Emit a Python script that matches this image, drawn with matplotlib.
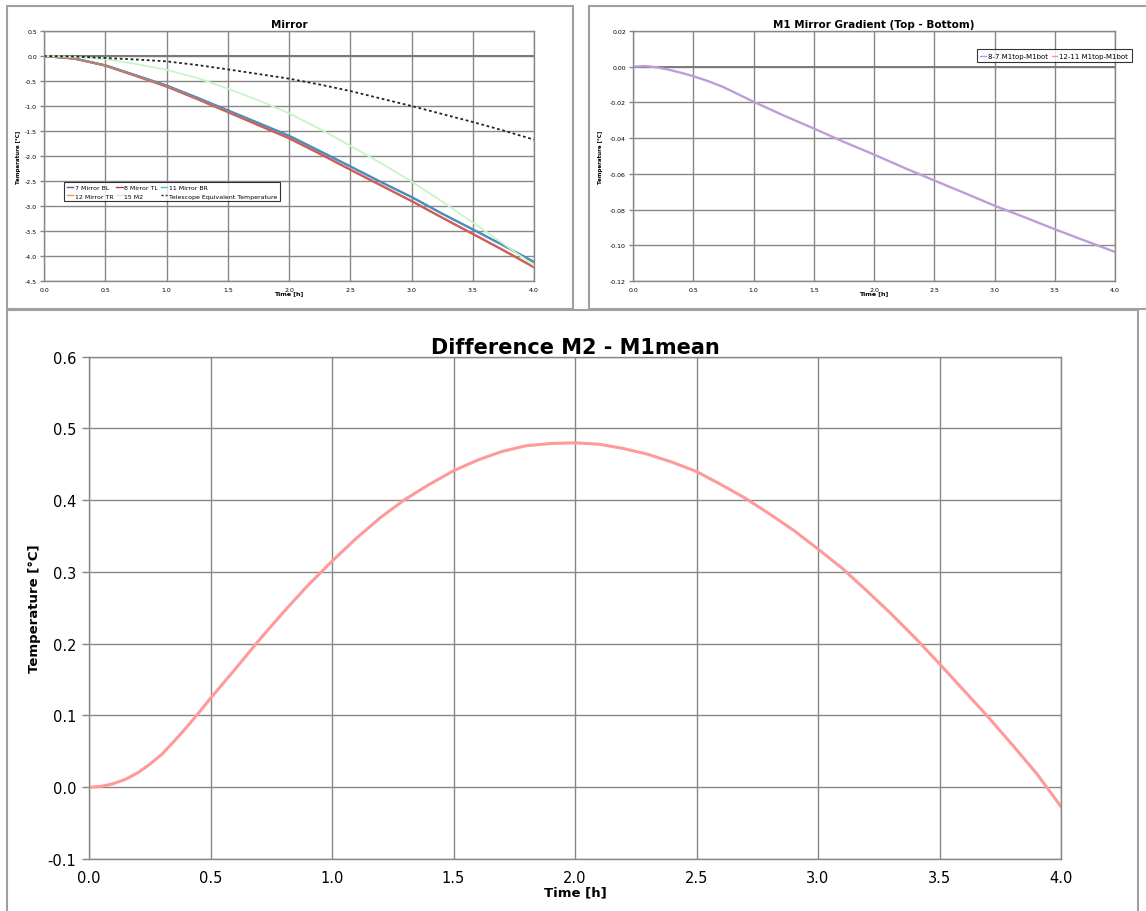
import numpy as np
from matplotlib import pyplot as plt
from matplotlib.patches import Rectangle
from matplotlib.lines import Line2D

plt.rcParams['axes.unicode_minus'] = False

# ---- Mirror (top left) ----
t_mir = [0.0, 0.25, 0.5, 0.75, 1.0, 1.25, 1.5, 1.75, 2.0, 2.25, 2.5, 2.75, 3.0, 3.25, 3.5, 3.75, 4.0]
m7_bl = [0, -0.05, -0.187, -0.387, -0.59, -0.833, -1.087, -1.34, -1.595, -1.9, -2.207, -2.52, -2.82, -3.153, -3.467, -3.787, -4.12]
m11_br = [0, -0.05, -0.187, -0.387, -0.59, -0.833, -1.087, -1.34, -1.595, -1.9, -2.207, -2.52, -2.82, -3.153, -3.467, -3.787, -4.12]
m8_tl = [0, -0.052, -0.192, -0.398, -0.61, -0.86, -1.12, -1.383, -1.645, -1.953, -2.273, -2.587, -2.9, -3.233, -3.558, -3.885, -4.225]
m12_tr = [0, -0.052, -0.192, -0.398, -0.61, -0.86, -1.12, -1.383, -1.645, -1.953, -2.273, -2.587, -2.9, -3.233, -3.558, -3.885, -4.225]
m15_m2 = [0, -0.017, -0.06, -0.16, -0.275, -0.44, -0.65, -0.885, -1.145, -1.457, -1.795, -2.14, -2.51, -2.91, -3.33, -3.755, -4.19]
tel_eq = [0, -0.01, -0.04, -0.07, -0.107, -0.18, -0.267, -0.36, -0.453, -0.57, -0.7, -0.85, -1.0, -1.16, -1.32, -1.49, -1.673]

# ---- M1 gradient (top right) ----
t_grad = [0.0, 0.1, 0.2, 0.3, 0.4, 0.5, 0.625, 0.75, 0.875, 1.0, 1.25, 1.5, 1.75, 2.0, 2.25, 2.5, 2.75, 3.0,
          3.25, 3.5, 3.75, 4.0]
g_8_7 = [0, 0.0004, -0.0004, -0.0017, -0.0034, -0.0053, -0.0081, -0.0114, -0.0155, -0.0196, -0.0273, -0.0346,
         -0.0421, -0.0492, -0.0566, -0.0637, -0.0707, -0.0778, -0.0843, -0.091, -0.0974, -0.1037]
g_12_11 = [0, 0.0004, -0.0004, -0.0017, -0.0034, -0.0053, -0.0081, -0.0114, -0.0155, -0.0196, -0.0273, -0.0346,
           -0.0421, -0.0492, -0.0566, -0.0637, -0.0707, -0.0778, -0.0843, -0.091, -0.0974, -0.1037]

# ---- Difference M2 - M1mean (bottom) ----
t_diff = [0.0, 0.05, 0.1, 0.15, 0.2, 0.25, 0.3, 0.35, 0.4, 0.45, 0.5, 0.6, 0.7, 0.8, 0.9, 1.0, 1.1, 1.2, 1.3,
          1.4, 1.5, 1.6, 1.7, 1.8, 1.9, 2.0, 2.1, 2.2, 2.3, 2.4, 2.5, 2.6, 2.7, 2.8, 2.9, 3.0, 3.1, 3.2, 3.3,
          3.4, 3.5, 3.6, 3.7, 3.8, 3.9, 4.0]
diff_m2 = [0.0, 0.0012, 0.005, 0.011, 0.02, 0.032, 0.046, 0.064, 0.083, 0.103, 0.124, 0.164, 0.205, 0.244,
           0.281, 0.315, 0.347, 0.376, 0.401, 0.422, 0.441, 0.456, 0.468, 0.476, 0.479, 0.48, 0.478, 0.472,
           0.464, 0.453, 0.44, 0.422, 0.403, 0.381, 0.358, 0.332, 0.305, 0.274, 0.242, 0.208, 0.172, 0.135,
           0.098, 0.059, 0.019, -0.027]

W, H = 1146, 912
fig = plt.figure(figsize=(W / 100, H / 100), dpi=100)

GRID = '#878787'


def fr(x0, y0, x1, y1):
    # pixel box (from top-left) -> figure rect
    return [x0 / W, 1 - y1 / H, (x1 - x0) / W, (y1 - y0) / H]


def style(ax, fs):
    ax.grid(True, color=GRID, lw=1)
    ax.set_axisbelow(True)
    for s in ax.spines.values():
        s.set_color(GRID)
        s.set_linewidth(1)
    ax.tick_params(axis='y', length=3, width=1, color=GRID, labelsize=fs, pad=2)
    ax.tick_params(axis='x', length=0, labelsize=fs, pad=4)


# panel frames
for box in [(7, 7, 573, 310), (589, 7, 1160, 310), (7, 311, 1138, 930)]:
    fig.patches.append(Rectangle(fr(*box)[:2], *fr(*box)[2:], transform=fig.transFigure,
                                 fill=False, edgecolor='#a0a0a0', lw=1.5))

# top left
ax1 = fig.add_axes(fr(44, 32, 534, 282))
style(ax1, 4.5)
ax1.axhline(0, color='#7a7a7a', lw=1.5, zorder=1)
ax1.plot(t_mir, m7_bl, color='#4f5faa', lw=1.6, label='7 Mirror BL')
ax1.plot(t_mir, m8_tl, color='#b03060', lw=1.6, label='8 Mirror TL')
ax1.plot(t_mir, m11_br, color='#4bbcd0', lw=1.6, alpha=0.5, label='11 Mirror BR')
ax1.plot(t_mir, m12_tr, color='#f79646', lw=1.6, alpha=0.45, label='12 Mirror TR')
ax1.plot(t_mir, m15_m2, color='#c8f5c8', lw=1.3, label='15 M2')
ax1.plot(t_mir, tel_eq, color='#222222', lw=1.3, ls=(0, (1.5, 1.5)), label='Telescope Equivalent Temperature')
ax1.set_xlim(0, 4)
ax1.set_ylim(-4.5, 0.5)
ax1.set_xticks(np.arange(0, 4.01, 0.5))
ax1.set_yticks(np.arange(-4.5, 0.51, 0.5))
ax1.xaxis.set_major_formatter('{x:.1f}')
ax1.yaxis.set_major_formatter('{x:.1f}')
ax1.set_title('Mirror', fontsize=7.5, fontweight='bold', pad=3)
ax1.set_xlabel('Time [h]', fontsize=4.5, fontweight='bold', labelpad=-1)
ax1.set_ylabel('Temperature [°C]', fontsize=4, fontweight='bold', labelpad=3)
h7 = Line2D([], [], color='#4f5faa', lw=1)
h8 = Line2D([], [], color='#b03060', lw=1)
h11 = Line2D([], [], color='#4bc6d0', lw=1)
h12 = Line2D([], [], color='#f79646', lw=1)
h15 = Line2D([], [], color='#c8f5c8', lw=1)
ht = Line2D([], [], color='#222222', lw=1, ls=(0, (1.5, 1.5)))
leg = ax1.legend([h7, h12, h8, h15, h11, ht],
                 ['7 Mirror BL', '12 Mirror TR', '8 Mirror TL', '15 M2', '11 Mirror BR',
                  'Telescope Equivalent Temperature'],
                 ncol=3, fontsize=4.5, loc='upper left', bbox_to_anchor=(0.035, 0.41),
                 frameon=True, fancybox=False, handlelength=1.0, handletextpad=0.3,
                 columnspacing=0.4, borderpad=0.45, labelspacing=0.55)
leg.get_frame().set_edgecolor('black')
leg.get_frame().set_linewidth(0.8)

# top right
ax2 = fig.add_axes(fr(633, 32, 1115, 282))
style(ax2, 4.5)
ax2.axhline(0, color='#7a7a7a', lw=1.4, zorder=1)
ax2.plot(t_grad, g_8_7, color='#9f9ff5', lw=1.6)
ax2.plot(t_grad, g_12_11, color='#ff9999', lw=1.6, alpha=0.35)
ax2.set_xlim(0, 4)
ax2.set_ylim(-0.12, 0.02)
ax2.set_xticks(np.arange(0, 4.01, 0.5))
ax2.set_yticks(np.arange(-0.12, 0.021, 0.02))
ax2.xaxis.set_major_formatter('{x:.1f}')
ax2.yaxis.set_major_formatter('{x:.2f}')
ax2.set_title('M1 Mirror Gradient (Top - Bottom)', fontsize=7.5, fontweight='bold', pad=3)
ax2.set_xlabel('Time [h]', fontsize=4.5, fontweight='bold', labelpad=-1)
ax2.set_ylabel('Temperature [°C]', fontsize=4, fontweight='bold', labelpad=5)
leg2 = ax2.legend([Line2D([], [], color='#9f9ff5', lw=1), Line2D([], [], color='#ff9999', lw=1)],
                  ['8-7 M1top-M1bot', '12-11 M1top-M1bot'], ncol=2, fontsize=5,
                  loc='upper right', bbox_to_anchor=(1.042, 0.94), frameon=True, fancybox=False,
                  handlelength=0.8, handletextpad=0.3, columnspacing=0.6, borderpad=0.5)
leg2.get_frame().set_edgecolor('black')
leg2.get_frame().set_linewidth(0.8)

# bottom
ax3 = fig.add_axes(fr(89, 357.7, 1061, 860))
style(ax3, 10.5)
ax3.tick_params(axis='y', length=5, pad=4)
ax3.tick_params(axis='x', pad=8)
ax3.plot(t_diff, diff_m2, color='#ff9a9a', lw=2.2)
ax3.set_xlim(0, 4)
ax3.set_ylim(-0.1, 0.6)
ax3.set_xticks(np.arange(0, 4.01, 0.5))
ax3.set_yticks(np.arange(-0.1, 0.61, 0.1))
ax3.xaxis.set_major_formatter('{x:.1f}')
ax3.yaxis.set_major_formatter('{x:.1f}')
ax3.set_title('Difference M2 - M1mean', fontsize=15, fontweight='bold', pad=3)
ax3.set_xlabel('Time [h]', fontsize=9.5, fontweight='bold', labelpad=0)
ax3.set_ylabel('Temperature [°C]', fontsize=9.5, fontweight='bold', labelpad=5)

fig.savefig('out.png', dpi=100)
